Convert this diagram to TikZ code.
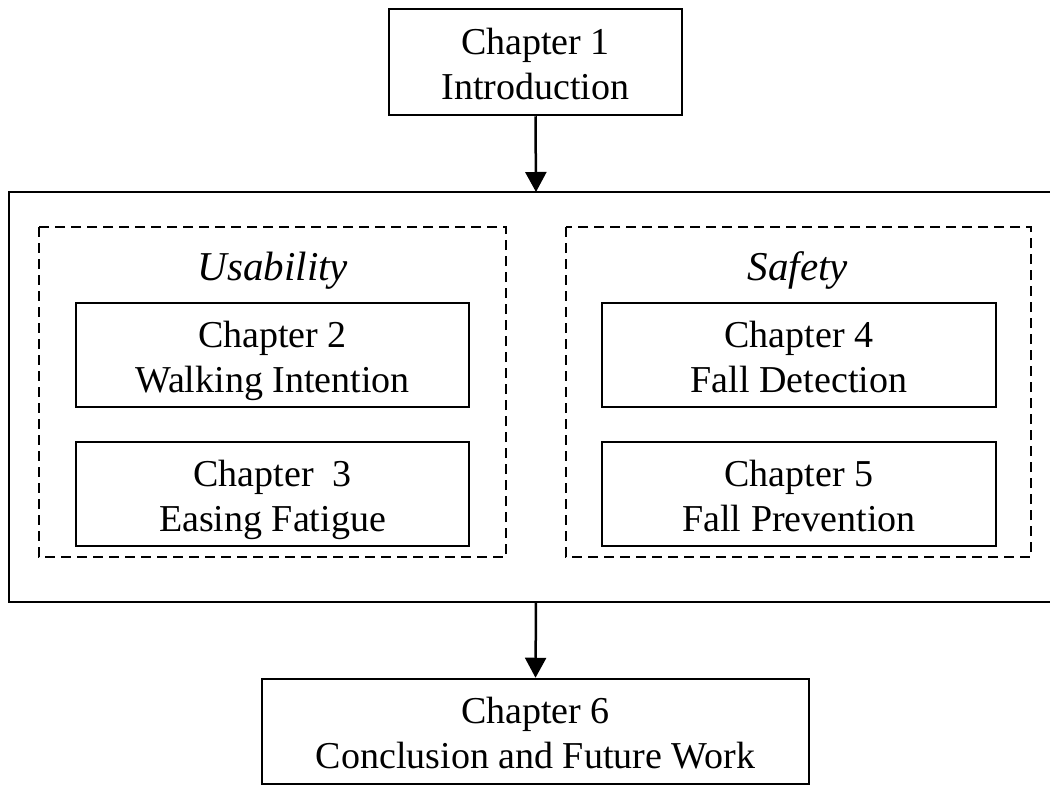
\documentclass[tikz,border=0pt]{standalone}
\usepackage{fontspec}
\setmainfont{Liberation Serif}
\usetikzlibrary{arrows.meta}
% first-line rule keeps the two text lines at the same place in every box
\newcommand{\firstln}{\rule{0pt}{43pt}}
\tikzset{
  chapbox/.style={draw, line width=2.5pt, inner sep=0pt, align=center,
    font=\fontsize{38}{45}\selectfont},
  groupbox/.style={draw, line width=2.5pt, dash pattern=on 10pt off 6pt},
  outerbox/.style={draw, line width=2.5pt},
  flow/.style={line width=2.5pt, -{Triangle[width=21pt,length=20pt]}},
  grouptitle/.style={font=\fontsize{41}{48}\selectfont\itshape, inner sep=0pt, anchor=base}
}
\begin{document}
\begin{tikzpicture}[x=1pt,y=-1pt]
  \useasboundingbox (0,0) rectangle (1050,785);
  \clip (0,0) rectangle (1050,785);

  % chapter 1 at the top
  \node[chapbox, minimum width=293pt, minimum height=106pt] (c1) at (535.5,62) {\firstln Chapter 1\\Introduction\strut};

  % enclosing frame for the core chapters (runs past the right edge)
  \draw[outerbox] (9,192) rectangle (1070,602);
  \coordinate (frametop) at (536,192);
  \coordinate (framebot) at (536,602);

  % the two themed groups
  \draw[groupbox] (39,227) rectangle (506,557);
  \draw[groupbox] (566,227) rectangle (1031,557);
  \node[grouptitle] (usab) at (273,280) {Usability};
  \node[grouptitle] (safe) at (798,280) {Safety};

  % chapters 2--5
  \node[chapbox, minimum width=393pt, minimum height=104pt] (c2) at (272.5,355) {\firstln Chapter 2\\Walking Intention\strut};
  \node[chapbox, minimum width=393pt, minimum height=104pt] (c3) at (272.5,494) {\firstln Chapter\ \ 3\\Easing Fatigue\strut};
  \node[chapbox, minimum width=394pt, minimum height=104pt] (c4) at (799,355) {\firstln Chapter 4\\Fall Detection\strut};
  \node[chapbox, minimum width=394pt, minimum height=104pt] (c5) at (799,494) {\firstln Chapter 5\\Fall Prevention\strut};

  % chapter 6 at the bottom
  \node[chapbox, minimum width=547pt, minimum height=105pt] (c6) at (535.5,731.5) {\firstln Chapter 6\\Conclusion and Future Work\strut};

  % connectors
  \draw[flow] (c1.south) -- (frametop);
  \draw[flow] (framebot) -- (c6.north);
\end{tikzpicture}
\end{document}
